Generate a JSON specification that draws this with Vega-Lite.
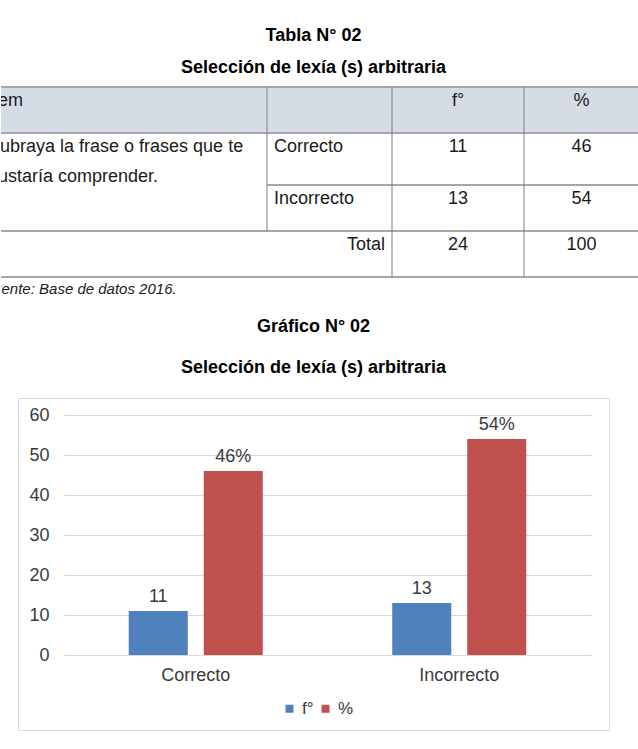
{
  "$schema": "https://vega.github.io/schema/vega-lite/v6.json",
  "background": "white",
  "padding": {"top": 27, "left": 0, "right": 0, "bottom": 0},
  "config": {
    "font": "Liberation Sans",
    "view": {"stroke": null}
  },
  "datasets": {
    "encabezado": [
      {"col": 0, "col2": 4, "fila": 0, "fila2": 1}
    ],
    "lineasH": [
      {"col": 0, "col2": 4, "fila": 0},
      {"col": 0, "col2": 4, "fila": 1},
      {"col": 1, "col2": 4, "fila": 2},
      {"col": 0, "col2": 4, "fila": 3},
      {"col": 0, "col2": 4, "fila": 4}
    ],
    "lineasV": [
      {"col": 1, "fila": 0, "fila2": 3},
      {"col": 2, "fila": 0, "fila2": 4},
      {"col": 3, "fila": 0, "fila2": 4}
    ],
    "celdas": [
      {"texto": "Ítem", "col": 0, "fila": 0},
      {"texto": "f°", "col": 2.5, "fila": 0},
      {"texto": "%", "col": 3.5, "fila": 0},
      {"texto": ["Subraya la frase o frases que te", "gustaría comprender."], "col": 0, "fila": 1},
      {"texto": "Correcto", "col": 1, "fila": 1},
      {"texto": "11", "col": 2.5, "fila": 1},
      {"texto": "46", "col": 3.5, "fila": 1},
      {"texto": "Incorrecto", "col": 1, "fila": 2},
      {"texto": "13", "col": 2.5, "fila": 2},
      {"texto": "54", "col": 3.5, "fila": 2},
      {"texto": "Total", "col": 2, "fila": 3},
      {"texto": "24", "col": 2.5, "fila": 3},
      {"texto": "100", "col": 3.5, "fila": 3}
    ],
    "fuente": [
      {"texto": "Fuente: Base de datos 2016.", "col": 0, "fila": 4}
    ],
    "grafico": [
      {"categoria": "Correcto", "serie": "f°", "valor": 11, "etiqueta": "11"},
      {"categoria": "Correcto", "serie": "%", "valor": 46, "etiqueta": "46%"},
      {"categoria": "Incorrecto", "serie": "f°", "valor": 13, "etiqueta": "13"},
      {"categoria": "Incorrecto", "serie": "%", "valor": 54, "etiqueta": "54%"}
    ]
  },
  "vconcat": [
    {
      "width": 625,
      "height": 311,
      "title": {
        "text": "Tabla N° 02",
        "subtitle": "Selección de lexía (s) arbitraria",
        "anchor": "middle",
        "font": "Liberation Sans",
        "fontSize": 18,
        "fontWeight": "bold",
        "color": "#000000",
        "subtitleFont": "Liberation Sans",
        "subtitleFontSize": 18,
        "subtitleFontWeight": "bold",
        "subtitleColor": "#000000",
        "subtitlePadding": 14,
        "offset": 9
      },
      "layer": [
        {
          "data": {"name": "encabezado"},
          "mark": {"type": "rect", "color": "#d6dce5"},
          "encoding": {
            "x": {"field": "col", "type": "quantitative", "scale": {"domain": [0, 1, 2, 3, 4], "range": [0, 266, 391, 523, 638], "nice": false, "zero": false}, "axis": null},
            "x2": {"field": "col2"},
            "y": {"field": "fila", "type": "quantitative", "scale": {"domain": [0, 1, 2, 3, 4], "range": [0, 46, 98, 144, 190], "nice": false, "zero": false}, "axis": null},
            "y2": {"field": "fila2"}
          }
        },
        {
          "data": {"name": "lineasH"},
          "mark": {"type": "rule", "color": "#a6a6a6", "strokeWidth": 2},
          "encoding": {
            "x": {"field": "col", "type": "quantitative", "scale": {"domain": [0, 1, 2, 3, 4], "range": [0, 266, 391, 523, 638], "nice": false, "zero": false}, "axis": null},
            "x2": {"field": "col2"},
            "y": {"field": "fila", "type": "quantitative", "scale": {"domain": [0, 1, 2, 3, 4], "range": [0, 46, 98, 144, 190], "nice": false, "zero": false}, "axis": null}
          }
        },
        {
          "data": {"name": "lineasV"},
          "mark": {"type": "rule", "color": "#7f7f7f", "strokeWidth": 1},
          "encoding": {
            "x": {"field": "col", "type": "quantitative", "scale": {"domain": [0, 1, 2, 3, 4], "range": [0, 266, 391, 523, 638], "nice": false, "zero": false}, "axis": null},
            "y": {"field": "fila", "type": "quantitative", "scale": {"domain": [0, 1, 2, 3, 4], "range": [0, 46, 98, 144, 190], "nice": false, "zero": false}, "axis": null},
            "y2": {"field": "fila2"}
          }
        },
        {
          "data": {"name": "celdas"},
          "transform": [{"filter": "datum.col == 0"}],
          "mark": {"type": "text", "align": "left", "baseline": "alphabetic", "dx": -13, "dy": 18.5, "fontSize": 18, "lineHeight": 30, "color": "#1a1a1a", "clip": true},
          "encoding": {
            "x": {"field": "col", "type": "quantitative", "scale": {"domain": [0, 1, 2, 3, 4], "range": [0, 266, 391, 523, 638], "nice": false, "zero": false}, "axis": null},
            "y": {"field": "fila", "type": "quantitative", "scale": {"domain": [0, 1, 2, 3, 4], "range": [0, 46, 98, 144, 190], "nice": false, "zero": false}, "axis": null},
            "text": {"field": "texto"}
          }
        },
        {
          "data": {"name": "celdas"},
          "transform": [{"filter": "datum.col == 1"}],
          "mark": {"type": "text", "align": "left", "baseline": "alphabetic", "dx": 7, "dy": 18.5, "fontSize": 18, "color": "#1a1a1a", "clip": true},
          "encoding": {
            "x": {"field": "col", "type": "quantitative", "scale": {"domain": [0, 1, 2, 3, 4], "range": [0, 266, 391, 523, 638], "nice": false, "zero": false}, "axis": null},
            "y": {"field": "fila", "type": "quantitative", "scale": {"domain": [0, 1, 2, 3, 4], "range": [0, 46, 98, 144, 190], "nice": false, "zero": false}, "axis": null},
            "text": {"field": "texto"}
          }
        },
        {
          "data": {"name": "celdas"},
          "transform": [{"filter": "datum.col == 2"}],
          "mark": {"type": "text", "align": "right", "baseline": "alphabetic", "dx": -7, "dy": 18.5, "fontSize": 18, "color": "#1a1a1a", "clip": true},
          "encoding": {
            "x": {"field": "col", "type": "quantitative", "scale": {"domain": [0, 1, 2, 3, 4], "range": [0, 266, 391, 523, 638], "nice": false, "zero": false}, "axis": null},
            "y": {"field": "fila", "type": "quantitative", "scale": {"domain": [0, 1, 2, 3, 4], "range": [0, 46, 98, 144, 190], "nice": false, "zero": false}, "axis": null},
            "text": {"field": "texto"}
          }
        },
        {
          "data": {"name": "celdas"},
          "transform": [{"filter": "datum.col % 1 != 0"}],
          "mark": {"type": "text", "align": "center", "baseline": "alphabetic", "dy": 18.5, "fontSize": 18, "color": "#1a1a1a", "clip": true},
          "encoding": {
            "x": {"field": "col", "type": "quantitative", "scale": {"domain": [0, 1, 2, 3, 4], "range": [0, 266, 391, 523, 638], "nice": false, "zero": false}, "axis": null},
            "y": {"field": "fila", "type": "quantitative", "scale": {"domain": [0, 1, 2, 3, 4], "range": [0, 46, 98, 144, 190], "nice": false, "zero": false}, "axis": null},
            "text": {"field": "texto"}
          }
        },
        {
          "data": {"name": "fuente"},
          "mark": {"type": "text", "align": "left", "baseline": "alphabetic", "dx": -17, "dy": 17.4, "fontSize": 15, "fontStyle": "italic", "color": "#1a1a1a", "clip": true},
          "encoding": {
            "x": {"field": "col", "type": "quantitative", "scale": {"domain": [0, 1, 2, 3, 4], "range": [0, 266, 391, 523, 638], "nice": false, "zero": false}, "axis": null},
            "y": {"field": "fila", "type": "quantitative", "scale": {"domain": [0, 1, 2, 3, 4], "range": [0, 46, 98, 144, 190], "nice": false, "zero": false}, "axis": null},
            "text": {"field": "texto"}
          }
        }
      ]
    },
    {
      "width": 591,
      "height": 332,
      "view": {"stroke": "#d9d9d9", "strokeWidth": 1},
      "title": {
        "text": "Gráfico N° 02",
        "subtitle": "Selección de lexía (s) arbitraria",
        "anchor": "middle",
        "font": "Liberation Sans",
        "fontSize": 18,
        "fontWeight": "bold",
        "color": "#000000",
        "subtitleFont": "Liberation Sans",
        "subtitleFontSize": 18,
        "subtitleFontWeight": "bold",
        "subtitleColor": "#000000",
        "subtitlePadding": 23,
        "offset": 21
      },
      "data": {"name": "grafico"},
      "encoding": {
        "x": {
          "field": "categoria",
          "type": "nominal",
          "sort": ["Correcto", "Incorrecto"],
          "scale": {"range": [46, 573], "paddingInner": 0, "paddingOuter": 0},
          "axis": {"title": null, "orient": "bottom", "offset": -68, "labelPadding": 4, "ticks": false, "domain": false, "grid": false, "labelAngle": 0, "labelFontSize": 18, "labelColor": "#3a3a3a", "labelFont": "Liberation Sans"}
        },
        "xOffset": {
          "field": "serie",
          "type": "nominal",
          "sort": ["f°", "%"],
          "scale": {"paddingInner": 0.213, "paddingOuter": 0.863}
        },
        "y": {
          "field": "valor",
          "type": "quantitative",
          "scale": {"domain": [0, 60], "range": [257, 17], "nice": false, "zero": true},
          "axis": {"title": null, "values": [0, 10, 20, 30, 40, 50, 60], "offset": -36, "labelPadding": 5, "ticks": false, "domain": false, "grid": true, "gridColor": "#d9d9d9", "gridWidth": 1, "labelFontSize": 18, "labelColor": "#3a3a3a", "labelFont": "Liberation Sans"}
        }
      },
      "layer": [
        {
          "mark": {"type": "bar"},
          "encoding": {
            "color": {
              "field": "serie",
              "type": "nominal",
              "sort": ["f°", "%"],
              "scale": {"domain": ["f°", "%"], "range": ["#4f81bd", "#c0504d"]},
              "legend": {"title": null, "orient": "none", "legendX": 263, "legendY": 302, "direction": "horizontal", "symbolType": "square", "symbolSize": 64, "symbolStrokeWidth": 0, "labelFontSize": 17, "labelColor": "#3a3a3a", "labelFont": "Liberation Sans", "labelOffset": 4, "columnPadding": 3, "padding": 0}
            }
          }
        },
        {
          "mark": {"type": "text", "baseline": "alphabetic", "dy": -9, "fontSize": 18, "color": "#3a3a3a"},
          "encoding": {"text": {"field": "etiqueta"}}
        }
      ]
    }
  ],
  "resolve": {"scale": {"color": "independent"}, "legend": {"color": "independent"}},
  "spacing": 0,
  "bounds": "flush",
  "center": true
}
